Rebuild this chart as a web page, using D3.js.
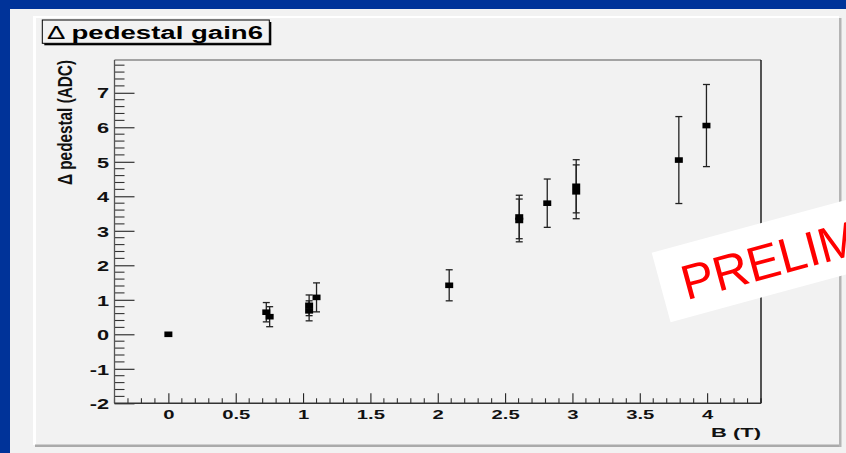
<!DOCTYPE html>
<html>
<head>
<meta charset="utf-8">
<script src="https://cdn.jsdelivr.net/npm/d3@7"></script>
<style>
  html, body { margin: 0; padding: 0; background: #003399; }
  svg { display: block; }
  text { font-family: "Liberation Sans", Arial, Helvetica, sans-serif; }
</style>
</head>
<body>
<svg id="chart" width="846" height="453"></svg>
<script>
// Magnetic field (T), pedestal shift (ADC counts) and its uncertainty
const fieldB   = [0, 0.727, 0.752, 1.045, 1.045, 1.10, 2.085, 2.605, 2.605, 2.813, 3.028, 3.028, 3.79, 3.995];
const deltaPed = [0, 0.64, 0.51, 0.84, 0.68, 1.07, 1.42, 3.40, 3.30, 3.80, 4.29, 4.13, 5.05, 6.05];
const pedErr   = [0, 0.28, 0.29, 0.30, 0.29, 0.42, 0.45, 0.63, 0.62, 0.70, 0.77, 0.78, 1.26, 1.19];

const xTickValues = [0, 0.5, 1, 1.5, 2, 2.5, 3, 3.5, 4];
const yTickValues = [-2, -1, 0, 1, 2, 3, 4, 5, 6, 7];

const titleText = "pedestal gain6";
const xTitle = "B (T)";
const yTitle = "\u0394 pedestal (ADC)";
const stampText = "PRELIMINARY";

const svg = d3.select("#chart");
const W = 846, H = 453;
const WIDE = 1.5; // horizontal stretch of the lettering

// slide background and pad
svg.append("rect").attr("x", 0).attr("y", 0).attr("width", W).attr("height", H).attr("fill", "#003399");
svg.append("rect").attr("x", 10).attr("y", 9).attr("width", W - 10).attr("height", H - 9).attr("fill", "#f2f2f2");
// pad bevel: light top/left, dark bottom/right
svg.append("rect").attr("x", 33).attr("y", 16).attr("width", 806).attr("height", 2).attr("fill", "#ffffff");
svg.append("rect").attr("x", 33).attr("y", 16).attr("width", 3).attr("height", 429).attr("fill", "#ffffff");
svg.append("rect").attr("x", 35).attr("y", 444.5).attr("width", 806).attr("height", 2.5).attr("fill", "#aaaaaa");
svg.append("rect").attr("x", 839).attr("y", 18).attr("width", 2.5).attr("height", 429).attr("fill", "#b4b4b4");

// plot frame geometry
const frameL = 114.5, frameR = 761, frameT = 60, frameB = 403.3;

const x = d3.scaleLinear().domain([-0.4, 4.4]).range([frameL, frameR]);
const y = d3.scaleLinear().domain([-2, 7.95]).range([frameB, frameT]);

const g = svg.append("g");

// minor ticks
const xMinor = d3.range(-4, 45).map(i => i / 10).filter(v => Math.abs(v * 2 - Math.round(v * 2)) > 1e-6);
const yMinor = d3.range(-10, 40).map(i => i / 5).filter(v => Math.abs(v - Math.round(v)) > 1e-6);

// y axis (ticks point inward, to the right)
const yAxis = d3.axisLeft(y).tickValues(yTickValues).tickSize(-20).tickFormat(d => String(d));
const yAx = g.append("g").attr("transform", `translate(${frameL},0)`).call(yAxis);
yAx.select(".domain").remove();
yAx.selectAll(".tick line").attr("stroke", "#222").attr("stroke-width", 1.1);
yAx.selectAll(".tick text")
  .attr("x", -5.5 / WIDE).attr("dy", "0.36em")
  .attr("transform", `scale(${WIDE},1)`)
  .attr("font-size", 14.5).attr("font-weight", "bold").attr("fill", "#111");
g.append("g").selectAll("line").data(yMinor).join("line")
  .attr("x1", frameL).attr("x2", frameL + 10)
  .attr("y1", d => y(d)).attr("y2", d => y(d))
  .attr("stroke", "#333").attr("stroke-width", 1.1);

// x axis (ticks point inward, upward)
const xAxis = d3.axisBottom(x).tickValues(xTickValues).tickSize(-10).tickFormat(d => String(d));
const xAx = g.append("g").attr("transform", `translate(0,${frameB})`).call(xAxis);
xAx.select(".domain").remove();
xAx.selectAll(".tick line").attr("stroke", "#222").attr("stroke-width", 1.1);
xAx.selectAll(".tick text")
  .attr("y", 15.8).attr("dy", 0)
  .attr("transform", `scale(${WIDE},1)`)
  .attr("font-size", 13.5).attr("font-weight", "bold").attr("fill", "#111");
g.append("g").selectAll("line").data(xMinor).join("line")
  .attr("x1", d => x(d)).attr("x2", d => x(d))
  .attr("y1", frameB).attr("y2", frameB - 5)
  .attr("stroke", "#333").attr("stroke-width", 1.1);

// frame lines
g.append("line").attr("x1", frameL).attr("x2", frameR).attr("y1", frameT).attr("y2", frameT).attr("stroke", "#555").attr("stroke-width", 1.2);
g.append("line").attr("x1", frameR).attr("x2", frameR).attr("y1", frameT).attr("y2", frameB).attr("stroke", "#111").attr("stroke-width", 1.4);
g.append("line").attr("x1", frameL).attr("x2", frameL).attr("y1", frameT).attr("y2", frameB).attr("stroke", "#555").attr("stroke-width", 1.3);
g.append("line").attr("x1", frameL).attr("x2", frameR).attr("y1", frameB).attr("y2", frameB).attr("stroke", "#333").attr("stroke-width", 1.4);

// axis titles
svg.append("text").attr("x", frameR).attr("y", 437).attr("text-anchor", "end")
  .attr("textLength", 50).attr("lengthAdjust", "spacingAndGlyphs")
  .attr("font-size", 13.5).attr("font-weight", "bold").attr("fill", "#111").text(xTitle);
svg.append("text").attr("transform", `translate(71.5,${frameT}) rotate(-90) scale(1,${WIDE})`).attr("text-anchor", "end")
  .attr("textLength", 125).attr("lengthAdjust", "spacingAndGlyphs")
  .attr("font-size", 13.5).attr("font-weight", "bold").attr("fill", "#111").text(yTitle);

// data points with error bars
const pts = fieldB.map((b, i) => ({ b, v: deltaPed[i], e: pedErr[i] }));
const capW = 3.5;
const bars = g.append("g").selectAll("g").data(pts.filter(d => d.e > 0)).join("g");
bars.append("line")
  .attr("x1", d => x(d.b)).attr("x2", d => x(d.b))
  .attr("y1", d => y(d.v - d.e)).attr("y2", d => y(d.v + d.e))
  .attr("stroke", "#222").attr("stroke-width", 1.3);
bars.append("line")
  .attr("x1", d => x(d.b) - capW).attr("x2", d => x(d.b) + capW)
  .attr("y1", d => y(d.v + d.e)).attr("y2", d => y(d.v + d.e))
  .attr("stroke", "#222").attr("stroke-width", 1.3);
bars.append("line")
  .attr("x1", d => x(d.b) - capW).attr("x2", d => x(d.b) + capW)
  .attr("y1", d => y(d.v - d.e)).attr("y2", d => y(d.v - d.e))
  .attr("stroke", "#222").attr("stroke-width", 1.3);
g.append("g").selectAll("rect").data(pts).join("rect")
  .attr("x", d => x(d.b) - 4).attr("y", d => y(d.v) - 2.8)
  .attr("width", 8).attr("height", 5.6).attr("fill", "#000");

// title box with shadow
svg.append("rect").attr("x", 44.3).attr("y", 22).attr("width", 227).attr("height", 23.3).attr("fill", "#000");
svg.append("rect").attr("x", 42.3).attr("y", 20).attr("width", 227).attr("height", 23.3)
  .attr("fill", "#f2f2f2").attr("stroke", "#000").attr("stroke-width", 1);
const tt = svg.append("text").attr("x", 47).attr("y", 38.5).attr("font-size", 17.5).attr("fill", "#000")
  .attr("textLength", 216).attr("lengthAdjust", "spacingAndGlyphs");
tt.append("tspan").attr("font-weight", "normal").text("\u0394 ");
tt.append("tspan").attr("font-weight", "bold").text(titleText);

// preliminary stamp
const stamp = svg.append("g").attr("transform", "translate(651.7,252.7) rotate(-15.2)");
stamp.append("rect").attr("x", 0).attr("y", 0).attr("width", 300).attr("height", 72).attr("fill", "#ffffff");
stamp.append("text").attr("x", 21).attr("y", 55).attr("font-size", 49).attr("fill", "#ff0000").text(stampText);
</script>
</body>
</html>
